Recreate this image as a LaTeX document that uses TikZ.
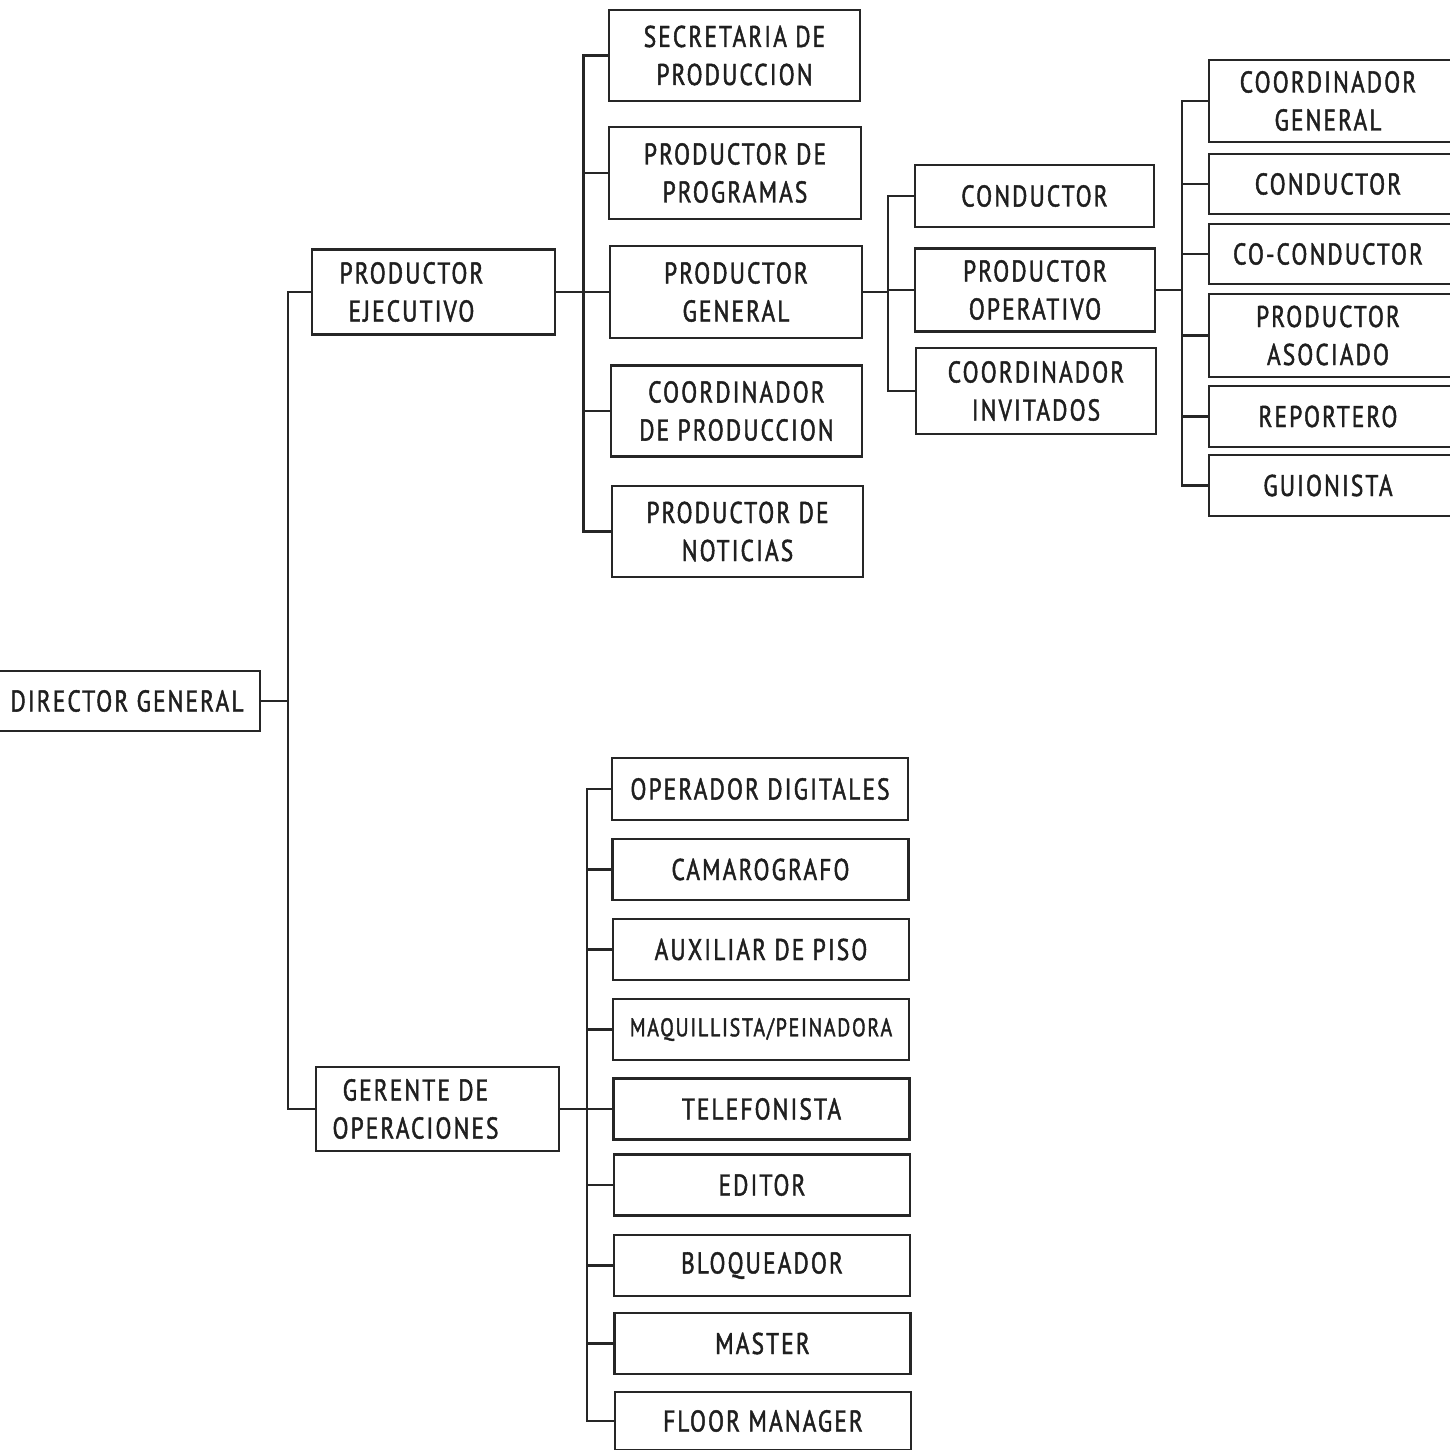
\documentclass[tikz,border=0pt]{standalone}
\usepackage{fontspec}
\setmainfont{PT Sans}[FakeStretch=0.78,LetterSpace=7,FakeBold=1.5]
\begin{document}
\begin{tikzpicture}[x=1pt,y=-1pt,
  box/.style={draw=black!85,line width=2.2pt,inner sep=0pt,align=center,
    font=\fontsize{30}{38}\selectfont,text=black!88},
  lbl/.style={inner sep=0pt,align=center,font=\fontsize{30}{38}\selectfont,text=black!88},
  con/.style={draw=black!85,line width=2.2pt}]
\fill[white] (0,0) rectangle (1449,1450);
\useasboundingbox (0,0) rectangle (1449,1450);
% level 0
\node[box,minimum width=266pt,minimum height=60pt] (dg) at (127,701) {DIRECTOR GENERAL};
% level 1
\node[box,minimum width=243pt,minimum height=85pt] (pe) at (433.5,292) {};
\node[lbl] at ([xshift=-22pt]pe.center) {PRODUCTOR\\EJECUTIVO};
\node[box,minimum width=243pt,minimum height=84pt] (go) at (437.5,1109) {};
\node[lbl] at ([xshift=-22pt]go.center) {GERENTE DE\\OPERACIONES};
% level 2 upper
\node[box,minimum width=251pt,minimum height=91pt] (sp) at (734.5,55.5) {SECRETARIA DE\\PRODUCCION};
\node[box,minimum width=252pt,minimum height=92pt] (pp) at (735,173) {PRODUCTOR DE\\PROGRAMAS};
\node[box,minimum width=252pt,minimum height=92pt] (pg) at (736,292) {PRODUCTOR\\GENERAL};
\node[box,minimum width=251pt,minimum height=91pt] (cp) at (736.5,411) {COORDINADOR\\DE PRODUCCION};
\node[box,minimum width=251pt,minimum height=91pt] (pn) at (737.5,531.5) {PRODUCTOR DE\\NOTICIAS};
% level 3
\node[box,minimum width=239pt,minimum height=62pt] (c3) at (1034.5,196) {CONDUCTOR};
\node[box,minimum width=240pt,minimum height=83pt] (po) at (1035,290) {PRODUCTOR\\OPERATIVO};
\node[box,minimum width=240pt,minimum height=86pt] (ci) at (1036,391) {COORDINADOR\\INVITADOS};
% level 4 (cut by the right edge of the page)
\begin{scope}[every node/.style={box,minimum width=250pt}]
\node[minimum height=82pt] (cg) at (1334,101) {};
\node[minimum height=60pt] (c4) at (1334,184) {};
\node[minimum height=60pt] (cc) at (1334,254) {};
\node[minimum height=83pt] (pa) at (1334,335.5) {};
\node[minimum height=61pt] (rp) at (1334,416.5) {};
\node[minimum height=61pt] (gu) at (1334,485.5) {};
\end{scope}
\node[lbl] at (1328,101) {COORDINADOR\\GENERAL};
\node[lbl] at (1328,184) {CONDUCTOR};
\node[lbl] at (1328,254) {CO-CONDUCTOR};
\node[lbl] at (1328,335.5) {PRODUCTOR\\ASOCIADO};
\node[lbl] at (1328,416.5) {REPORTERO};
\node[lbl] at (1328,485.5) {GUIONISTA};
% level 2 lower
\node[box,minimum width=296pt,minimum height=62pt] (od) at (760,789) {OPERADOR DIGITALES};
\node[box,minimum width=296pt,minimum height=61pt] (ca) at (760.5,869.5) {CAMAROGRAFO};
\node[box,minimum width=296pt,minimum height=61pt] (ax) at (761,949.5) {AUXILIAR DE PISO};
\node[box,minimum width=296pt,minimum height=61pt] (mq) at (761,1029.5) {\fontsize{25.5}{30}\selectfont MAQUILLISTA/PEINADORA};
\node[box,minimum width=296pt,minimum height=61pt] (te) at (761.5,1109) {TELEFONISTA};
\node[box,minimum width=296pt,minimum height=61pt] (ed) at (762,1185) {EDITOR};
\node[box,minimum width=296pt,minimum height=61pt] (bl) at (762,1265.5) {BLOQUEADOR};
\node[box,minimum width=296pt,minimum height=61pt] (ms) at (762.5,1343.5) {MASTER};
\node[box,minimum width=296pt,minimum height=58pt] (fm) at (763,1421) {FLOOR MANAGER};
% connectors: level 0 -> 1
\draw[con] (dg.east) -- ++(27,0) coordinate (j0);
\draw[con] (pe.west) -| (j0) |- (go.west);
% level 1 -> 2 upper
\coordinate (j1) at (583.5,292);
\draw[con] (pe.east) -- (pg.west);
\draw[con] (sp.west) -| (j1) |- (pn.west);
\draw[con] (pp.west) -- (pp.west -| j1);
\draw[con] (cp.west) -- (cp.west -| j1);
% level 2 -> 3
\coordinate (j2) at (888,292);
\draw[con] (pg.east) -- (j2);
\draw[con] (c3.west) -| (j2) |- (ci.west);
\draw[con] (po.west) -- (po.west -| j2);
% level 3 -> 4
\coordinate (j3) at (1182,290);
\draw[con] (po.east) -- (j3);
\draw[con] (cg.west) -| (j3) |- (gu.west);
\draw[con] (c4.west) -- (c4.west -| j3);
\draw[con] (cc.west) -- (cc.west -| j3);
\draw[con] (pa.west) -- (pa.west -| j3);
\draw[con] (rp.west) -- (rp.west -| j3);
% level 1 -> 2 lower
\coordinate (j4) at (587,1109);
\draw[con] (go.east) -- (te.west);
\draw[con] (od.west) -| (j4) |- (fm.west);
\foreach \n in {ca,ax,mq,ed,bl,ms} \draw[con] (\n.west) -- (\n.west -| j4);
\end{tikzpicture}
\end{document}
